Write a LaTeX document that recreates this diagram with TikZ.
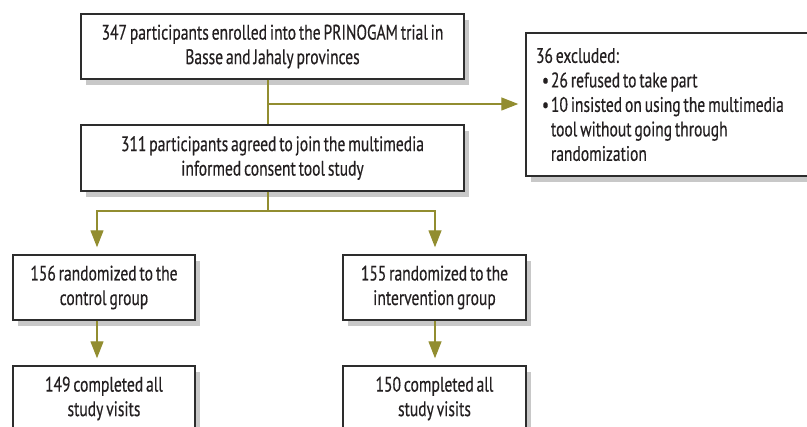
\documentclass[tikz,border=0pt]{standalone}
\usepackage{fontspec}
\setmainfont{PT Sans}[FakeStretch=0.74,WordSpace=0.7,FakeBold=0.4]
\usetikzlibrary{arrows.meta,shadows}
\definecolor{olivec}{RGB}{146,141,48}
\definecolor{boxline}{RGB}{45,45,45}
\definecolor{shadowc}{RGB}{200,200,200}
\definecolor{txt}{RGB}{35,31,32}
\begin{document}
\begin{tikzpicture}[x=1pt,y=-1pt,
  box/.style={draw=boxline,line width=1.4pt,fill=white,inner sep=0pt,align=center,
    font=\fontsize{21}{24.5}\selectfont,text=txt,
    drop shadow={shadow xshift=5pt,shadow yshift=-6pt,fill=shadowc,opacity=1}},
  conn/.style={draw=olivec,line width=1.3pt},
  arr/.style={conn,-{Triangle[length=17pt,width=13pt]},shorten >=7pt}]
\clip (0,0) rectangle (807,427);
\node[box,minimum width=383pt,minimum height=65pt] (enr) at (272.5,46.5)
  {347 participants enrolled into the PRINOGAM trial in\\Basse and Jahaly provinces};
\node[box,minimum width=383pt,minimum height=66pt] (agr) at (272.5,158)
  {311 participants agreed to join the multimedia\\informed consent tool study};
\node[box,minimum width=320pt,minimum height=143pt,align=left,text width=300pt,inner xsep=10pt] (exc) at (686,104.5)
  {\spaceskip=0pt\xspaceskip=0pt\relax
   36 excluded:\\
   \makebox[15pt][l]{\hspace{6pt}•}26 refused to take part\\
   \makebox[15pt][l]{\hspace{6pt}•}10 insisted on using the multimedia\\
   \hspace*{15pt}tool without going through\\
   \hspace*{15pt}randomization};
\node[box,minimum width=182pt,minimum height=65pt] (ctl) at (104,287.5)
  {156 randomized to the\\control group};
\node[box,minimum width=183pt,minimum height=65pt] (int) at (434.5,287.5)
  {155 randomized to the\\intervention group};
\node[box,minimum width=182pt,minimum height=65pt] (cmp1) at (104,398.5)
  {149 completed all\\study visits};
\node[box,minimum width=183pt,minimum height=65pt] (cmp2) at (434.5,398.5)
  {150 completed all\\study visits};
\coordinate (j1) at (268,104);
\coordinate (j2) at (268,211);
\coordinate (lx) at (97,211);
\coordinate (rx) at (435,211);
\draw[conn] (enr.south -| j1) -- (agr.north -| j1);
\draw[arr] (j1) -- (exc.west |- j1);
\draw[conn] (agr.south -| j2) -- (j2);
\draw[arr] (j2) -| (ctl.north -| lx);
\draw[arr] (j2) -| (int.north -| rx);
\draw[arr] (ctl.south -| lx) -- (cmp1.north -| lx);
\draw[arr] (int.south -| rx) -- (cmp2.north -| rx);
\end{tikzpicture}
\end{document}
